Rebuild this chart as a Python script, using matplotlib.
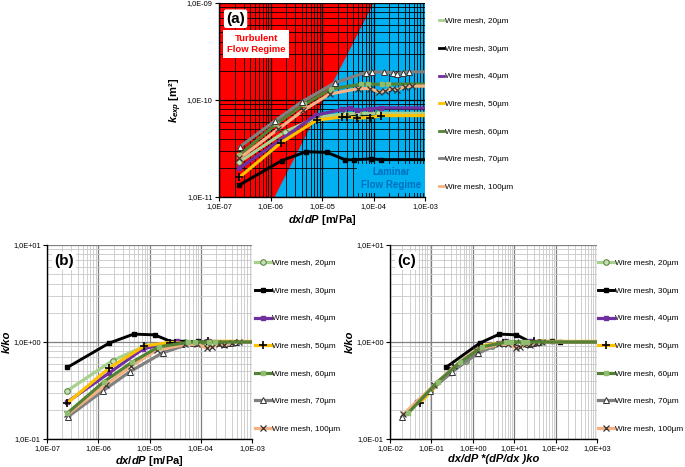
import matplotlib
matplotlib.use("Agg")
import matplotlib.pyplot as plt
from matplotlib.lines import Line2D
from matplotlib.ticker import LogLocator, FuncFormatter, NullFormatter
import numpy as np

plt.rcParams['font.family'] = ['Liberation Sans', 'DejaVu Sans']
plt.rcParams['mathtext.fontset'] = 'custom'
plt.rcParams['mathtext.it'] = 'Liberation Sans:italic:bold'
plt.rcParams['mathtext.rm'] = 'Liberation Sans:bold'
plt.rcParams['mathtext.bf'] = 'Liberation Sans:bold'

# --- data (dx/dP in m/Pa, k in m^2) ---
labels = ['Wire mesh, 20µm', 'Wire mesh, 30µm', 'Wire mesh, 40µm', 'Wire mesh, 50µm',
          'Wire mesh, 60µm', 'Wire mesh, 70µm', 'Wire mesh, 100µm']

# last point of each series = plateau carried on past the axis edge
x20 = [2.5e-7, 1.9e-6, 8.0e-6, 2.8e-5, 5.0e-5, 1.2e-4, 1e-1]
k20 = [2.3e-11, 4.7e-11, 6.6e-11, 7.2e-11, 7.3e-11, 7.3e-11, 7.3e-11]
x30 = [2.5e-7, 1.64e-6, 4.9e-6, 1.26e-5, 2.8e-5, 4.2e-5, 8.9e-5, 1.4e-4, 1e-1]
k30 = [1.33e-11, 2.37e-11, 2.93e-11, 2.88e-11, 2.42e-11, 2.42e-11, 2.47e-11, 2.43e-11, 2.43e-11]
x40 = [2.5e-7, 1.6e-6, 7.6e-6, 2.5e-5, 3.5e-5, 4.8e-5, 8.5e-5, 1.4e-4, 1e-1]
k40 = [1.98e-11, 3.9e-11, 7.0e-11, 8.0e-11, 8.3e-11, 7.8e-11, 8.1e-11, 8.3e-11, 8.2e-11]
x50 = [2.5e-7, 1.6e-6, 7.9e-6, 2.5e-5, 3.1e-5, 4.8e-5, 8.5e-5, 1.4e-4, 1e-1]
k50 = [1.6e-11, 3.63e-11, 6.2e-11, 6.7e-11, 6.7e-11, 6.5e-11, 6.6e-11, 6.9e-11, 6.9e-11]
x60 = [2.5e-7, 1.3e-6, 4.5e-6, 1.5e-5, 5.7e-5, 7.8e-5, 1.45e-4, 1.9e-4, 1e-1]
k60 = [2.7e-11, 5.7e-11, 9.0e-11, 1.3e-10, 1.45e-10, 1.46e-10, 1.45e-10, 1.46e-10, 1.46e-10]
x70 = [2.56e-7, 1.22e-6, 4.1e-6, 1.8e-5, 7.1e-5, 9.3e-5, 1.6e-4, 2.4e-4, 2.85e-4, 3.7e-4, 4.9e-4, 1e-1]
k70 = [3.3e-11, 6.1e-11, 9.6e-11, 1.51e-10, 1.92e-10, 1.95e-10, 1.93e-10, 1.92e-10, 1.87e-10,
       1.92e-10, 1.95e-10, 1.95e-10]
x100 = [2.5e-7, 1.4e-6, 4.3e-6, 1.4e-5, 5.0e-5, 8.5e-5, 1.3e-4, 1.65e-4, 2.3e-4, 2.9e-4, 4.0e-4,
        5.6e-4, 1e-1]
k100 = [2.5e-11, 5.0e-11, 7.8e-11, 1.15e-10, 1.31e-10, 1.31e-10, 1.21e-10, 1.24e-10, 1.31e-10,
        1.28e-10, 1.37e-10, 1.39e-10, 1.39e-10]

# plateau permeability ko [m^2] and (dP/dx)ko [Pa/m] per mesh
ko = [7.3e-11, 2.43e-11, 8.2e-11, 6.8e-11, 1.46e-10, 1.95e-10, 1.39e-10]
dPdx_ko = [3.6e5, 9.0e5, 1.75e5, 2.1e5, 1.1e5, 7.6e4, 8.4e4]

xs = [x20, x30, x40, x50, x60, x70, x100]
ks = [k20, k30, k40, k50, k60, k70, k100]

# laminar / turbulent boundary in panel (a)
border_x = [1.2e-6, 1.0e-4]
border_k = [1.0e-11, 1.0e-9]

# --- styles ---
styles = [
    dict(color='#A9D18E', lw=2.3, marker='o', ms=4, mfc='#C5E0B4', mec='#4E7A32', mew=0.7),
    dict(color='black', lw=2.1, marker='s', ms=3, mfc='black', mec='black'),
    dict(color='#7030A0', lw=2.3, marker='s', ms=3.5, mfc='#7030A0', mec='#7030A0'),
    dict(color='#FFC000', lw=2.3, marker='+', ms=6, mec='black', mew=1.2),
    dict(color='#548235', lw=2.3, marker='s', ms=3, mfc='#8FBC6F', mec='#8FBC6F'),
    dict(color='#808080', lw=2.3, marker='^', ms=4, mfc='white', mec='#333333', mew=0.7),
    dict(color='#F4B183', lw=2.3, marker='x', ms=4, mec='#333333', mew=0.9),
]

LEG_FS = 5.9


def sci_fmt(v, pos):
    return f"{v:.1E}".replace('.', ',')


def setup(ax, xlim, ylim, major_c, minor_c):
    ax.set_xscale('log')
    ax.set_yscale('log')
    ax.set_xlim(*xlim)
    ax.set_ylim(*ylim)
    ax.xaxis.set_major_locator(LogLocator(base=10, numticks=20))
    ax.yaxis.set_major_locator(LogLocator(base=10, numticks=20))
    ax.xaxis.set_minor_locator(LogLocator(base=10, subs=np.arange(2, 10), numticks=20))
    ax.yaxis.set_minor_locator(LogLocator(base=10, subs=np.arange(2, 10), numticks=20))
    ax.xaxis.set_major_formatter(FuncFormatter(sci_fmt))
    ax.yaxis.set_major_formatter(FuncFormatter(sci_fmt))
    ax.xaxis.set_minor_formatter(NullFormatter())
    ax.yaxis.set_minor_formatter(NullFormatter())
    ax.grid(True, which='major', color=major_c, lw=0.9)
    ax.grid(True, which='minor', color=minor_c, lw=0.6)
    ax.tick_params(which='major', labelsize=5.3, length=3, width=0.8, pad=1.5)
    ax.tick_params(which='minor', length=0)
    for s in ['top', 'right']:
        ax.spines[s].set_visible(False)
    for s in ['left', 'bottom']:
        ax.spines[s].set_color('black')
        ax.spines[s].set_linewidth(1.0)


def panel_label(ax, txt):
    ax.text(0.035, 0.955, txt, transform=ax.transAxes, fontsize=11, fontweight='bold',
            va='top', ha='left', zorder=10,
            bbox=dict(boxstyle='round,pad=0.15', fc='white', ec='none'))


def leg(ax, x0, handles=None, hl=2.0):
    kw = dict(loc='upper left', bbox_to_anchor=(x0, 0.925), frameon=False, fontsize=LEG_FS,
              labelspacing=2.42, handlelength=hl, handletextpad=0.1, borderaxespad=0,
              borderpad=0, numpoints=1)
    if handles is None:
        ax.legend(**kw)
    else:
        ax.legend(handles, labels, **kw)


fig = plt.figure(figsize=(6.85, 4.67), dpi=100)
axa = fig.add_axes([219 / 685, 1 - 197 / 467, 206 / 685, 194 / 467])
axb = fig.add_axes([47 / 685, 1 - 439 / 467, 205 / 685, 194 / 467])
axc = fig.add_axes([390 / 685, 1 - 439 / 467, 207 / 685, 194 / 467])

# panel (a)
setup(axa, (1e-7, 1e-3), (1e-11, 1e-9), 'black', 'black')
axa.set_facecolor('#00B0F0')
axa.fill([1e-7, border_x[0], border_x[1], 1e-7], [border_k[0], border_k[0], border_k[1], border_k[1]],
         color='#FF0000', lw=0, zorder=1)
for x, k, st in zip(xs, ks, styles):
    axa.plot(x, k, **st, zorder=3)
axa.text(0.18, 0.79, 'Turbulent\nFlow Regime', transform=axa.transAxes, fontsize=6.8,
         fontweight='bold', color='#FF0000', ha='center', va='center', zorder=10, linespacing=1.3,
         bbox=dict(boxstyle='square,pad=0.4', fc='white', ec='none'))
axa.text(0.835, 0.095, 'Laminar\nFlow Regime', transform=axa.transAxes, fontsize=7,
         fontweight='bold', color='#0070C0', ha='center', va='center', zorder=10, linespacing=1.3,
         bbox=dict(boxstyle='square,pad=0.35', fc='#00B0F0', ec='none'))
panel_label(axa, '(a)')
axa.set_xlabel(r'$dx/dP$ [m/Pa]', fontsize=8, fontweight='bold', labelpad=2)
axa.set_ylabel(r'$k_{exp}$ [m²]', fontsize=8, fontweight='bold', labelpad=2)
leg(axa, 1.07, [Line2D([], [], color=st['color'], lw=2) for st in styles], hl=0.6)

# panel (b)
setup(axb, (1e-7, 1e-3), (0.1, 10), '#808080', '#C8C8C8')
for i, (x, k, st) in enumerate(zip(xs, ks, styles)):
    axb.plot(x, np.array(k) / ko[i], **st, zorder=5 if i == 4 else 3, label=labels[i])
panel_label(axb, '(b)')
axb.set_xlabel(r'$dx/dP$ [m/Pa]', fontsize=8, fontweight='bold', labelpad=1)
axb.set_ylabel('k/ko', fontsize=8, fontweight='bold', fontstyle='italic', labelpad=1)
leg(axb, 1.015)

# panel (c)
setup(axc, (1e-2, 1e3), (0.1, 10), '#808080', '#C8C8C8')
for i, (x, k, st) in enumerate(zip(xs, ks, styles)):
    axc.plot(np.array(x) * dPdx_ko[i], np.array(k) / ko[i], **st,
             zorder=5 if i == 4 else 3, label=labels[i])
panel_label(axc, '(c)')
axc.set_xlabel('dx/dP *(dP/dx )ko', fontsize=8, fontweight='bold', fontstyle='italic', labelpad=1)
axc.set_ylabel('k/ko', fontsize=8, fontweight='bold', fontstyle='italic', labelpad=1)
leg(axc, 1.005)

fig.savefig('out.png', dpi=100)
